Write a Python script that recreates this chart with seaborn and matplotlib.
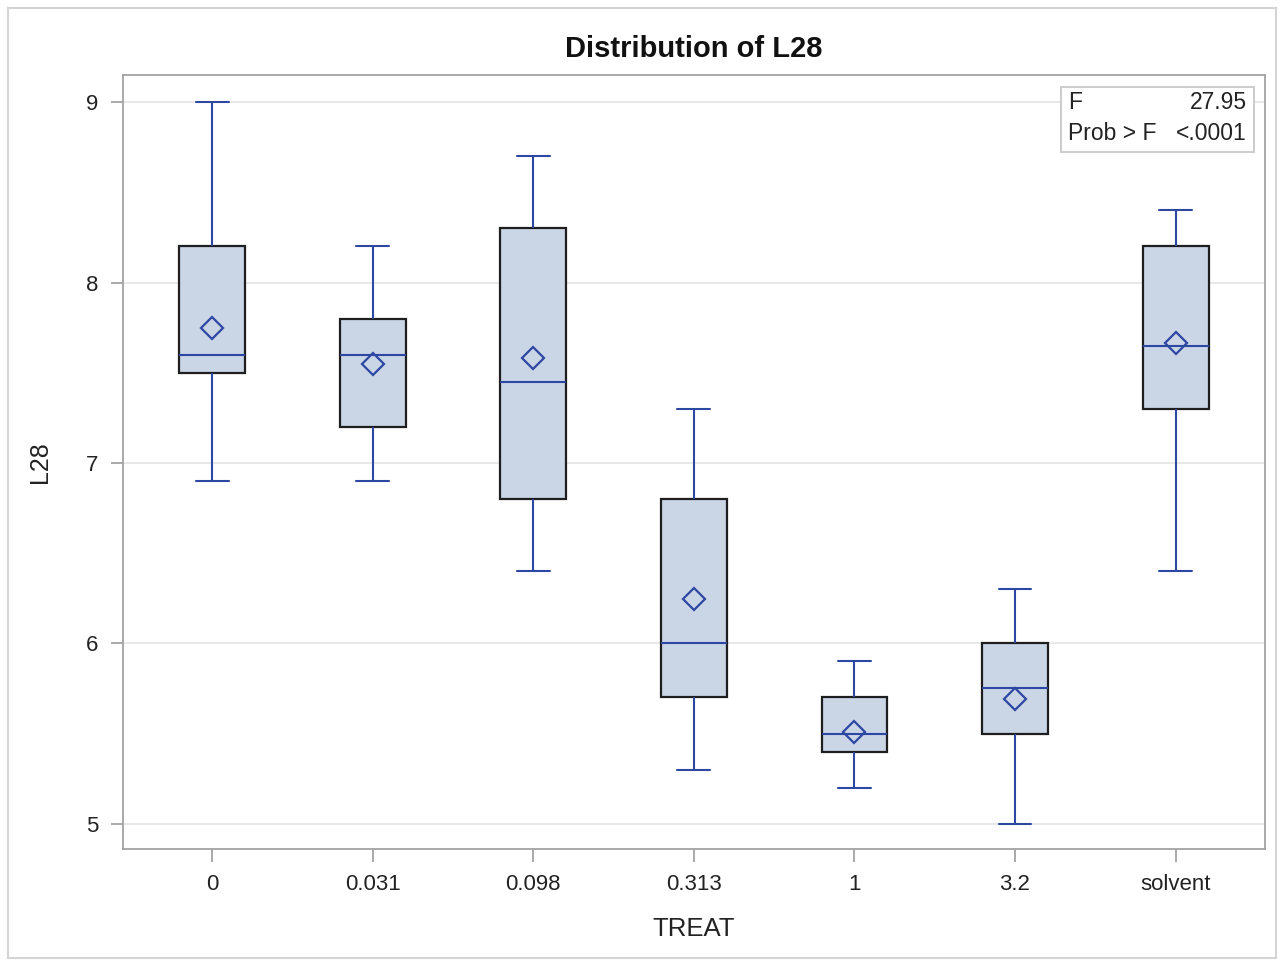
import numpy as np
import pandas as pd
import matplotlib
matplotlib.use("Agg")
import matplotlib.pyplot as plt
from matplotlib.patches import Rectangle
import seaborn as sns

# Treatment groups and five-number summaries of L28 per group
treat = ["0", "0.031", "0.098", "0.313", "1", "3.2", "solvent"]
l28_min = [6.9, 6.9, 6.4, 5.3, 5.2, 5.0, 6.4]
l28_q1 = [7.5, 7.2, 6.8, 5.7, 5.4, 5.5, 7.3]
l28_median = [7.6, 7.6, 7.45, 6.0, 5.5, 5.75, 7.65]
l28_q3 = [8.2, 7.8, 8.3, 6.8, 5.7, 6.0, 8.2]
l28_max = [9.0, 8.2, 8.7, 7.3, 5.9, 6.3, 8.4]
l28_mean = [7.75, 7.55, 7.58, 6.245, 5.51, 5.69, 7.665]

f_value = "27.95"
prob_f = "<.0001"

# Long-form table: each group's summary values as observations
rows = []
for i, t in enumerate(treat):
    for v in (l28_min[i], l28_q1[i], l28_median[i], l28_q3[i], l28_max[i]):
        rows.append({"TREAT": t, "L28": v})
df = pd.DataFrame(rows)
means_df = pd.DataFrame({"TREAT": treat, "L28": l28_mean})

sns.set_theme(style="white")
plt.rcParams["font.family"] = ["Liberation Sans", "DejaVu Sans"]

BLUE = "#2D48A3"
FILL = "#CAD5E6"
EDGE = "#1E1E1E"
GRAY = "#A3A3A3"

fig = plt.figure(figsize=(12.84, 9.63), dpi=100)
ax = fig.add_axes([0.0958, 0.1184, 0.8892, 0.8036])

ax.yaxis.grid(True, color="#E6E6E6", linewidth=1.3, zorder=0)
ax.set_axisbelow(True)

sns.boxplot(
    data=df, x="TREAT", y="L28", order=treat, ax=ax,
    width=0.41, whis=(0, 100), showfliers=False,
    boxprops=dict(facecolor=FILL, edgecolor=EDGE, linewidth=1.6),
    whiskerprops=dict(color=BLUE, linewidth=1.5),
    capprops=dict(color=BLUE, linewidth=1.5),
    medianprops=dict(color=BLUE, linewidth=1.5),
)

sns.pointplot(
    data=means_df, x="TREAT", y="L28", order=treat, ax=ax,
    linestyle="none", errorbar=None, marker="D", color=BLUE,
    markersize=11, markerfacecolor="none", markeredgecolor=BLUE,
    markeredgewidth=1.6,
)

ax.set_xlim(-0.555, 6.555)
ax.set_ylim(4.86, 9.15)
ax.set_yticks([5, 6, 7, 8, 9])
ax.set_yticklabels(["5", "6", "7", "8", "9"])

for s in ax.spines.values():
    s.set_color(GRAY)
    s.set_linewidth(1.3)
ax.tick_params(axis="both", direction="out", length=9, width=1.3,
               color=GRAY, labelsize=16, labelcolor="#222222", pad=9,
               bottom=True, left=True)

ax.set_xlabel("TREAT", fontsize=18.5, color="#222222", labelpad=16)
ax.set_ylabel("L28", fontsize=18, color="#222222", labelpad=24)
ax.set_title("Distribution of L28", fontsize=21, fontweight="bold",
             color="#111111", pad=13)

# Statistics inset
ax.add_patch(Rectangle((0.8214, 0.9005), 0.169, 0.084, transform=ax.transAxes,
                       facecolor="white", edgecolor="#C8C8C8", linewidth=1.3,
                       zorder=5))
inset_kw = dict(transform=ax.transAxes, fontsize=16.5, color="#222222",
                va="center", zorder=6)
ax.text(0.8275, 0.9650, "F", ha="left", **inset_kw)
ax.text(0.9842, 0.9650, f_value, ha="right", **inset_kw)
ax.text(0.8275, 0.9250, "Prob > F", ha="left", **inset_kw)
ax.text(0.9842, 0.9250, prob_f, ha="right", **inset_kw)

# Outer frame
fig.patches.append(Rectangle((8 / 1284, 5 / 963), 1268 / 1284, 950 / 963,
                             transform=fig.transFigure, fill=False,
                             edgecolor="#D4D4D4", linewidth=1.5))

fig.savefig("out.png", dpi=100)
